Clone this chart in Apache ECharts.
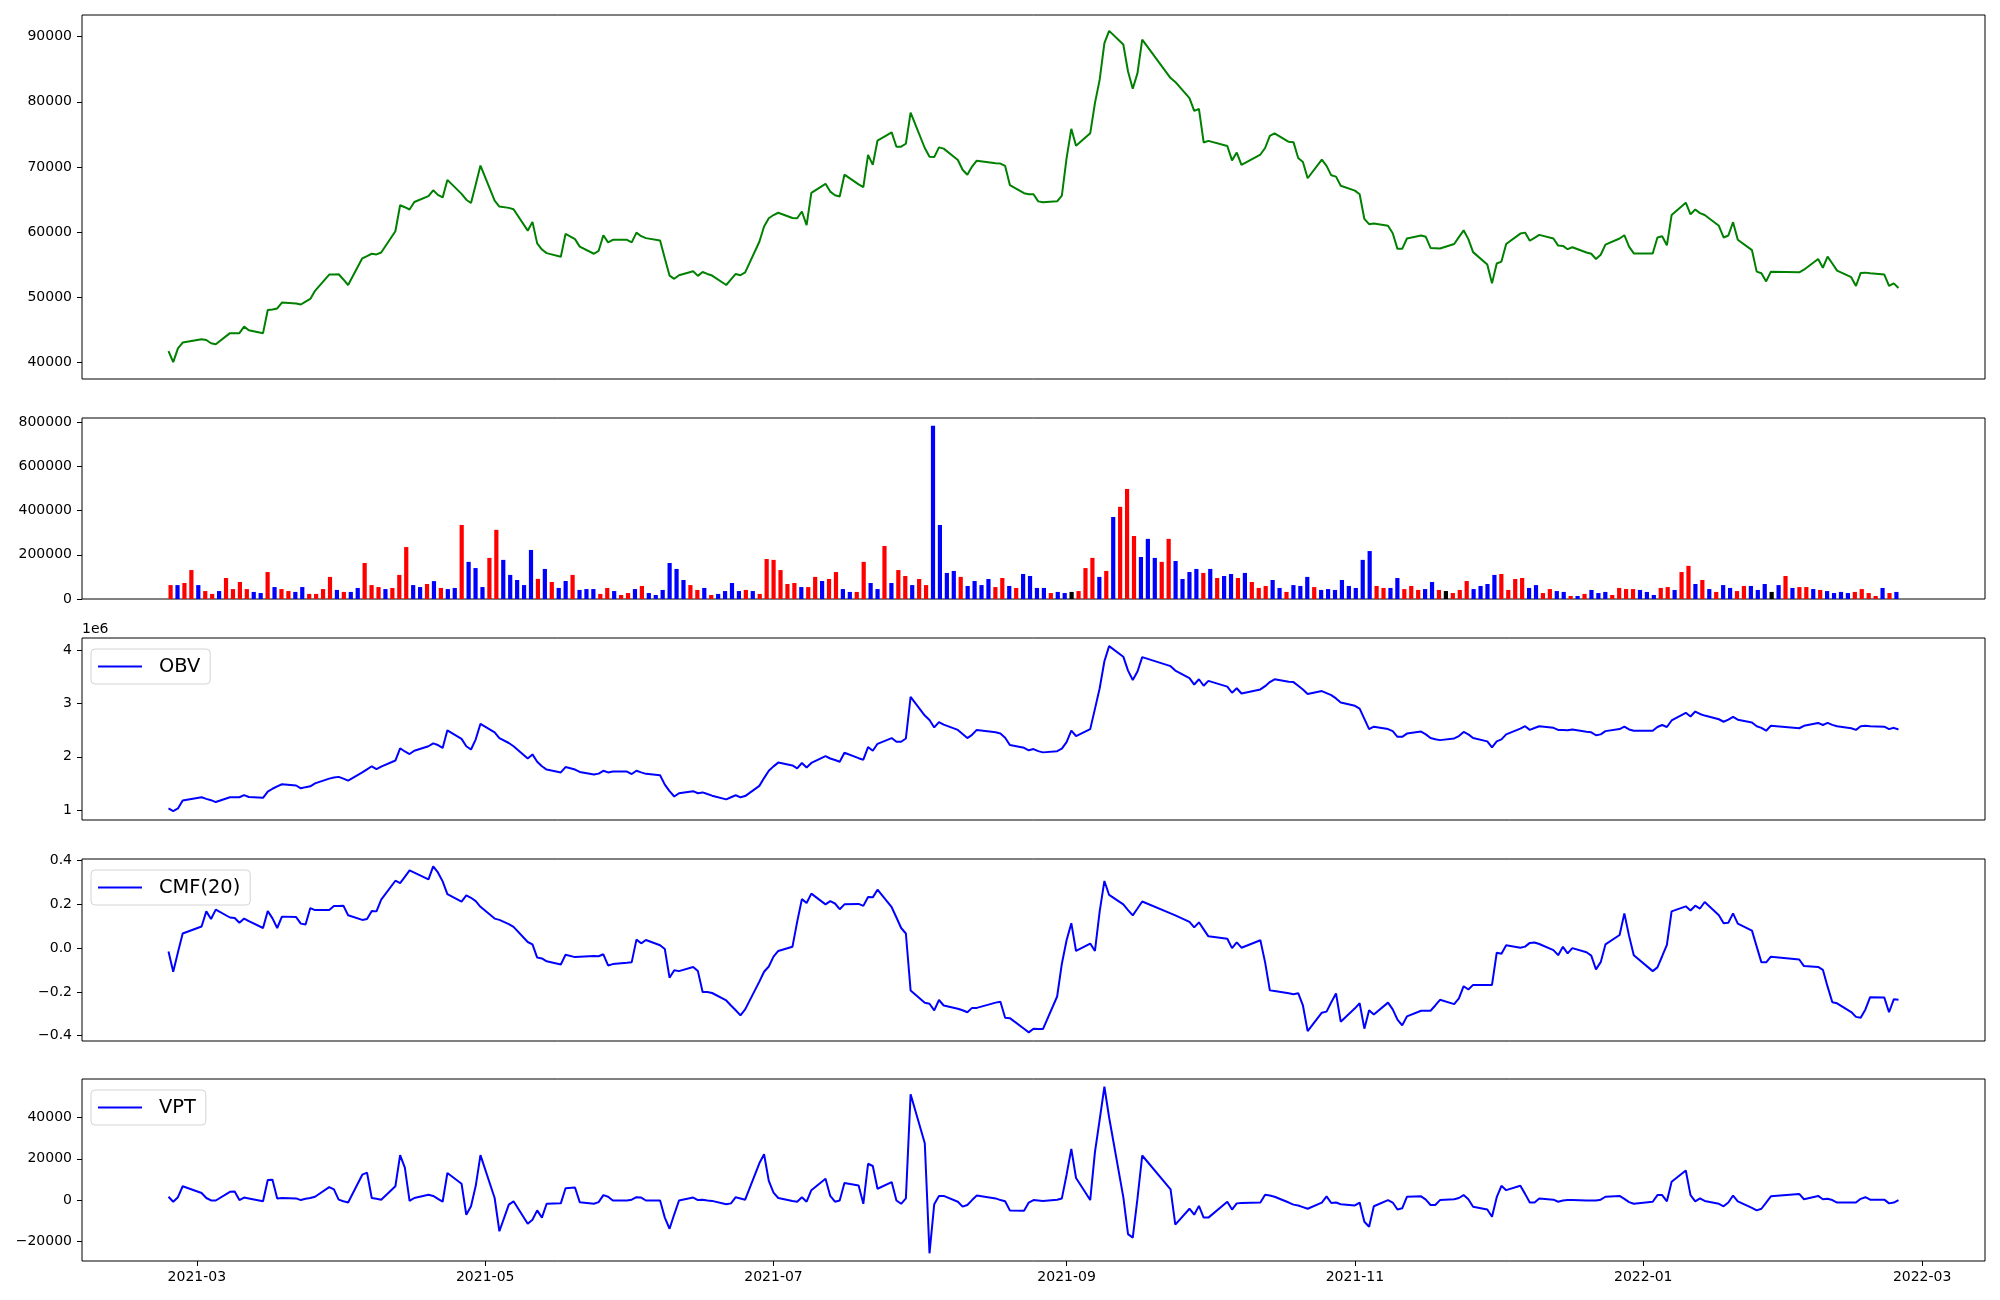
<!DOCTYPE html>
<html><head><meta charset="utf-8">
<script src="https://cdn.jsdelivr.net/npm/echarts@6/dist/echarts.min.js"></script>
<style>html,body{margin:0;padding:0;background:#fff}#c{width:2000px;height:1300px}</style>
</head><body><div id="c"></div>
<script>
// ---- categories: Korean trading days ----
const firstDay = [2021, 2, 23];
const lastDay = [2022, 2, 24];
const holidays = ['2021-03-01','2021-05-05','2021-05-19','2021-08-16','2021-09-20','2021-09-21','2021-09-22','2021-10-04','2021-10-11','2021-12-31','2022-01-31','2022-02-01','2022-02-02'];
const xTickLabels = ['2021-03','2021-05','2021-07','2021-09','2021-11','2022-01','2022-03'];
const priceTicks = [40000,50000,60000,70000,80000,90000];
const volumeTicks = [0,200000,400000,600000,800000];
const obvTicks = [1,2,3,4];
const cmfTicks = [-0.4,-0.2,0,0.2,0.4];
const vptTicks = [-20000,0,20000,40000];

// ---- series values ----
const price = [41700,40000,42100,43000,43500,43400,42900,42750,44450,44450,
44450,45450,44900,44450,48000,48100,48250,49150,49000,48850,
49300,49700,50950,53450,53450,53500,52700,51850,55950,56300,
56650,56550,56850,60100,64100,63800,63450,64600,65500,66400,
65700,65300,68000,65850,64950,64450,67300,70200,64800,63900,
63700,63500,60200,61550,58250,57300,56750,56200,59700,58900,
57750,56650,57100,59500,58400,58800,58800,58400,59900,59350,
59050,58700,55950,53300,52800,53350,53950,53250,53850,53550,
53300,51850,52700,53550,53350,53800,58500,60850,62100,62600,
62950,62150,62100,63150,61050,66000,67400,66200,65650,65450,
68800,67300,66900,71850,70300,74050,75300,73100,73100,73550,
78350,72900,71550,71500,73000,72800,71050,69550,68800,70050,
70950,70550,70500,70150,67200,65950,65800,65800,64700,64550,
64700,65600,71350,75850,73250,75150,79800,83400,89000,90900,
88800,84650,82000,84400,89550,83650,83050,80550,78600,78900,
73750,74000,73200,71000,72200,70300,71900,72900,74750,75150,
73850,73800,71350,70750,68250,71100,70150,68700,68500,67100,
66350,65800,62000,61200,61300,60950,59800,57400,57400,59000,
59450,59250,57550,57500,57450,58150,59200,60250,58900,56900,
55000,52100,55150,55450,58150,59750,59900,58650,59100,59550,
59000,57900,57850,57350,57650,56850,56650,55850,56500,58050,
59000,59500,57750,56700,56700,59150,59350,57950,62600,64500,
62700,63450,62900,62600,60950,59150,59450,61500,58800,57200,
53900,53650,52400,53900,53800,54200,55850,54500,56200,55150,
54050,53050,51700,53700,53750,53650,53450,51700,52100,51400];

const volume = [63000,63000,72500,131000,63000,36000,23000,36000,95000,45000,
77000,45000,32000,27000,122000,54000,45000,36000,32000,54000,
23000,23000,45000,100000,41000,32000,32000,50000,163000,63000,
54000,45000,50000,109000,235000,63000,54000,68000,81000,50000,
45000,50000,335000,168000,140000,54000,186000,313000,177000,109000,
86000,63000,222000,91000,136000,77000,50000,81500,109000,41000,
45000,45000,23000,50000,36000,18000,27000,45000,59000,27000,
18000,41000,163000,136000,86000,63000,41000,50000,18000,23000,
36000,72500,36000,41000,36000,23000,181000,177000,131000,68000,
72500,54000,54000,100000,81500,90600,122000,45000,32000,32000,
168000,72500,45000,240000,72500,131000,104000,63000,90600,63000,
783700,335000,118000,127000,100000,59000,81500,63000,90600,54000,
95000,59000,50000,113000,104000,50000,50000,27000,32000,27000,
32000,36000,140000,186000,100000,127000,371000,417000,498000,285000,
190000,272000,186000,168000,272000,172000,90600,122000,136000,118000,
136000,95000,104000,113000,95000,118000,77000,50000,59000,86000,
50000,32000,63000,59000,100000,54000,41000,45000,41000,86000,
59000,50000,177000,217000,59000,50000,50000,95000,45000,59000,
41000,45000,77000,41000,36000,27000,41000,81500,45000,59000,
68000,109000,113000,41000,90600,95000,50000,63000,27000,45000,
36000,32000,13600,13600,23000,41000,27000,32000,18000,50000,
45000,45000,41000,32000,18000,50000,54000,41000,122000,150000,
68000,86000,45000,32000,63000,50000,36000,59000,59000,41000,
68000,32000,63000,104000,50000,54000,54000,45000,41000,36000,
27000,32000,27000,32000,45000,27000,13600,50000,27000,32000];

// R = up (red), B = down (blue), K = unchanged (black)
const volumeDirection = ("RBRRBRRBRR"+"RRBBRBRRBB"+"RRRRBRBBRR"+"RBRRRBBRBR"+"BBRBBBRRBB"+"BBBRBRBBRB"+"BBRRBRRBRB"+"BBBBBRRBRB"+
"BBBRBRRRRR"+"RBRRBRRBBR"+"RBBRBRRBRR"+"BBBBRBBBBR"+"RBRBBBBRBB"+"KRRRBRBRRR"+"BBBRRBBBBR"+"BRBBRBRRRB"+"BRBBBRBBBB"+"BB"+
"BBRRBBRRRB"+"BRKRRRBBBB"+"RRRRBBRRBB"+"RBRBBBRRRR"+"BBBRRBRRBR"+"BRBBRRBBBK"+"BRBRRBRBBB"+"BRRRRBRB").split('');

// OBV in units of 1e6
const obvMillions = [1.03,0.98,1.03,1.18,1.24,1.21,1.185,1.15,1.24,1.24,
1.24,1.28,1.245,1.23,1.345,1.40,1.446,1.484,1.461,1.408,
1.43,1.446,1.50,1.59,1.61,1.623,1.59,1.553,1.707,1.765,
1.822,1.768,1.814,1.93,2.16,2.10,2.052,2.114,2.198,2.252,
2.221,2.167,2.497,2.336,2.198,2.137,2.328,2.62,2.459,2.351,
2.259,2.198,1.968,2.045,1.906,1.822,1.76,1.707,1.807,1.761,
1.715,1.668,1.684,1.737,1.707,1.722,1.722,1.676,1.737,1.707,
1.68,1.653,1.477,1.354,1.254,1.316,1.354,1.316,1.331,1.30,
1.27,1.20,1.24,1.277,1.239,1.262,1.454,1.60,1.738,1.82,
1.891,1.838,1.784,1.884,1.799,1.884,2.014,1.968,1.94,1.906,
2.075,1.974,1.945,2.183,2.114,2.244,2.352,2.282,2.282,2.344,
3.127,2.774,2.69,2.551,2.651,2.605,2.505,2.428,2.352,2.413,
2.505,2.46,2.436,2.359,2.221,2.168,2.122,2.145,2.106,2.083,
2.106,2.152,2.275,2.49,2.39,2.52,2.90,3.288,3.795,4.079,
3.88,3.619,3.441,3.602,3.871,3.702,3.619,3.479,3.357,3.456,
3.334,3.426,3.318,3.203,3.288,3.188,3.265,3.326,3.403,3.456,
3.411,3.403,3.334,3.265,3.18,3.234,3.196,3.157,3.096,3.02,
2.958,2.904,2.712,2.52,2.566,2.52,2.482,2.375,2.375,2.436,
2.474,2.421,2.352,2.33,2.313,2.344,2.39,2.467,2.421,2.352,
2.29,2.175,2.29,2.328,2.421,2.528,2.574,2.505,2.54,2.574,
2.544,2.505,2.505,2.497,2.513,2.47,2.459,2.405,2.421,2.482,
2.52,2.566,2.513,2.49,2.49,2.559,2.597,2.559,2.682,2.827,
2.758,2.85,2.804,2.774,2.705,2.658,2.697,2.751,2.697,2.643,
2.574,2.544,2.49,2.582,2.536,2.582,2.636,2.597,2.636,2.60,
2.574,2.536,2.505,2.574,2.582,2.575,2.566,2.52,2.544,2.513];

const cmf20 = [-0.015,-0.108,-0.019,0.067,0.099,0.168,0.133,0.176,0.140,0.138,
0.116,0.135,0.123,0.092,0.170,0.136,0.092,0.144,0.142,0.112,
0.108,0.183,0.174,0.174,0.193,0.193,0.194,0.150,0.129,0.133,
0.170,0.168,0.222,0.308,0.297,0.326,0.355,0.345,0.314,0.374,
0.346,0.305,0.247,0.213,0.241,0.230,0.215,0.189,0.135,0.129,
0.110,0.097,0.028,0.017,-0.043,-0.047,-0.060,-0.075,-0.030,-0.041,
-0.039,-0.036,-0.037,-0.028,-0.079,-0.073,-0.067,-0.064,0.039,0.022,
0.037,0.013,-0.004,-0.135,-0.101,-0.105,-0.086,-0.105,-0.200,-0.200,
-0.205,-0.239,-0.262,-0.284,-0.307,-0.280,-0.153,-0.108,-0.084,-0.039,
-0.013,0.006,0.12,0.224,0.206,0.249,0.200,0.215,0.204,0.178,
0.200,0.202,0.193,0.234,0.232,0.267,0.187,0.140,0.092,0.067,
-0.193,-0.250,-0.254,-0.284,-0.237,-0.262,-0.277,-0.284,-0.293,-0.273,
-0.273,-0.249,-0.245,-0.318,-0.320,-0.368,-0.385,-0.368,-0.369,-0.370,
-0.221,-0.071,0.036,0.114,-0.013,0.021,-0.013,0.168,0.307,0.243,
0.200,0.174,0.150,0.181,0.213,0.159,0.150,0.120,0.095,0.118,
0.086,0.054,0.043,0.000,0.026,0.002,0.036,-0.065,-0.193,-0.196,
-0.206,-0.211,-0.206,-0.262,-0.379,-0.295,-0.290,-0.247,-0.207,-0.336,
-0.275,-0.252,-0.368,-0.284,-0.303,-0.249,-0.280,-0.327,-0.353,-0.312,
-0.286,-0.286,-0.286,-0.262,-0.236,-0.256,-0.230,-0.174,-0.189,-0.168,
-0.168,-0.168,-0.021,-0.026,0.013,0.002,0.007,0.024,0.026,0.019,
-0.009,-0.032,0.006,-0.024,0.000,-0.019,-0.034,-0.097,-0.064,0.017,
0.060,0.159,0.056,-0.032,-0.105,-0.088,-0.037,0.015,0.168,0.191,
0.172,0.194,0.181,0.211,0.150,0.114,0.116,0.159,0.112,0.080,
0.007,-0.065,-0.065,-0.039,-0.052,-0.082,-0.086,-0.099,-0.176,-0.247,
-0.252,-0.292,-0.314,-0.318,-0.280,-0.224,-0.226,-0.293,-0.234,-0.236];

const vpt = [1600,-800,1400,6700,3400,1000,-200,-200,4000,4200,
0,1200,800,-600,9700,9900,800,1000,800,0,
600,1000,1600,6300,5200,200,-600,-1200,12300,13300,
1000,600,200,6700,21800,15700,-400,1000,2600,2000,
600,-800,13100,7900,-7100,-3000,6900,21800,1000,-15100,
-2200,-600,-11500,-9500,-5000,-8500,-1800,-1600,5700,6100,
-1000,-1800,-1000,2400,1600,-200,-200,200,1400,1200,
-200,-200,-8500,-13900,-6900,-200,1200,0,200,-200,
-400,-2000,-1600,1400,800,200,17800,22200,9300,3600,
1000,-400,-800,1400,-800,4800,10300,2000,-800,-200,
8300,7100,-1800,17600,16500,5500,8700,-200,-1800,800,
51300,27500,-25800,-2000,2000,2000,-800,-3200,-2400,0,
2200,800,0,-600,-5000,-5200,-1200,0,-200,-400,
200,800,12300,24800,10700,0,23200,39000,54900,40000,
1400,-16500,-18200,800,21600,5200,-11900,-4200,-7100,-2800,
-8500,-8500,-800,-4600,-1600,-1400,-1200,2600,2200,1600,
-1200,-2200,-2600,-3400,-4200,-1200,1800,-1400,-1200,-2000,
-2600,-1200,-10500,-12900,-3000,0,-1200,-4600,-4000,1600,
1800,200,-2400,-2400,0,400,1000,2400,400,-3200,
-4600,-8100,1400,6900,4800,6900,3000,-1200,-1200,800,
200,-800,-200,0,0,-200,-200,-200,200,1600,
2000,600,-1000,-1800,-800,2400,2400,-600,8900,14300,
2400,-600,800,-400,-1800,-3000,-1200,2200,-600,-3800,
-5000,-4200,-1200,1800,3000,400,2000,400,600,0,
-1200,-1200,-1200,600,1400,200,200,-1600,-1200,0];

// ---- build trading-day timestamps ----
function ymd(d){return d.getFullYear()+'-'+String(d.getMonth()+1).padStart(2,'0')+'-'+String(d.getDate()).padStart(2,'0');}
const hol = new Set(holidays);
const dates = [];
(function(){
  const d = new Date(firstDay[0], firstDay[1]-1, firstDay[2]);
  const e = new Date(lastDay[0], lastDay[1]-1, lastDay[2]);
  while (d <= e) {
    const w = d.getDay();
    if (w !== 0 && w !== 6 && !hol.has(ymd(d))) dates.push(d.getTime());
    d.setDate(d.getDate()+1);
  }
})();
const span = dates[dates.length-1] - dates[0];
const tMin = dates[0] - span*0.05, tMax = dates[dates.length-1] + span*0.05;
const xTickValues = xTickLabels.map(s => { const [y,m] = s.split('-').map(Number); return new Date(y, m-1, 1).getTime(); });
const nBars = volume.length;
const barPad = (nBars - 1 + 0.6) * 0.05 + 0.3;

const FONT = 'DejaVu Sans';
const minus = s => String(s).replace('-', '\u2212');
const grids = [
  {top: 15, height: 364}, {top: 418, height: 181}, {top: 638, height: 182}, {top: 859, height: 182}, {top: 1079, height: 182}
].map(g => Object.assign({left: 82, width: 1903, show: true, borderColor: '#000', borderWidth: 1, backgroundColor: 'transparent'}, g));

function hiddenDateX(i){ return {type: 'value', gridIndex: i, min: tMin, max: tMax, show: false, axisLine: {onZero: false}}; }
function yAxis(i, min, max, ticks, fmt){
  return {type: 'value', gridIndex: i, min, max, splitLine: {show: false}, position: 'left',
    axisLine: {show: false, onZero: false},
    axisTick: {show: true, length: 5, lineStyle: {color: '#000', width: 1}, customValues: ticks},
    axisLabel: {show: true, margin: 10, color: '#000', fontSize: 14, fontFamily: FONT, customValues: ticks, formatter: fmt,
      showMinLabel: true, showMaxLabel: true}};
}
const colorOf = {R: '#ff0000', B: '#0000ff', K: '#000000'};
const lineSeries = (name, vals, x, y, color) => ({
  name, type: 'line', xAxisIndex: x, yAxisIndex: y, showSymbol: false, symbol: 'none',
  data: vals.map((v,i) => [dates[i], v]), lineStyle: {color, width: 2}, itemStyle: {color}, animation: false, z: 3
});
function legend(name, top){
  return {data: [{name, icon: 'rect'}], left: 91, top, orient: 'horizontal', selectedMode: false,
    itemWidth: 44, itemHeight: 2, padding: [8, 10, 8, 7],
    borderColor: '#d4d4d4', borderWidth: 1, borderRadius: 4, backgroundColor: 'rgba(255,255,255,0.8)',
    textStyle: {fontSize: 19.4, color: '#000', fontFamily: FONT, padding: [0,0,0,12]}};
}

const option = {
  animation: false,
  backgroundColor: '#fff',
  textStyle: {fontFamily: FONT},
  grid: grids,
  xAxis: [
    hiddenDateX(0),
    {type: 'value', gridIndex: 1, min: -barPad, max: nBars - 1 + barPad, show: false, axisLine: {onZero: false}},
    hiddenDateX(2),
    hiddenDateX(3),
    {type: 'value', gridIndex: 4, min: tMin, max: tMax, position: 'bottom', splitLine: {show: false},
      axisLine: {show: false, onZero: false},
      axisTick: {show: true, length: 5, lineStyle: {color: '#000', width: 1}, customValues: xTickValues},
      axisLabel: {show: true, margin: 9, color: '#000', fontSize: 14, fontFamily: FONT, customValues: xTickValues,
        hideOverlap: false,
        formatter: v => { const d = new Date(v); return d.getFullYear() + '-' + String(d.getMonth()+1).padStart(2,'0'); }}}
  ],
  yAxis: [
    yAxis(0, 37405, 93337, priceTicks, v => String(v)),
    yAxis(1, 0, 819000, volumeTicks, v => String(v)),
    yAxis(2, 0.813, 4.231, obvTicks, v => String(v)),
    yAxis(3, -0.4243, 0.4073, cmfTicks, v => minus((Math.abs(v) < 1e-9 ? 0 : v).toFixed(1))),
    yAxis(4, -29520, 58660, vptTicks, v => minus(v))
  ],
  legend: [legend('OBV', 649), legend('CMF(20)', 870), legend('VPT', 1090)],
  graphic: [{type: 'text', left: 82, top: 622, style: {text: '1e6', font: '14px "DejaVu Sans"', fill: '#000'}}],
  series: [
    lineSeries('Close', price, 0, 0, '#008000'),
    {name: 'Volume', type: 'bar', xAxisIndex: 1, yAxisIndex: 1, barWidth: 4.2, animation: false,
      data: volume.map((v,i) => ({value: [i, v], itemStyle: {color: colorOf[volumeDirection[i]]}}))},
    lineSeries('OBV', obvMillions, 2, 2, '#0000ff'),
    lineSeries('CMF(20)', cmf20, 3, 3, '#0000ff'),
    lineSeries('VPT', vpt, 4, 4, '#0000ff')
  ]
};
const chart = echarts.init(document.getElementById('c'), null, {renderer: 'canvas', width: 2000, height: 1300});
chart.setOption(option);
</script>
</body></html>
